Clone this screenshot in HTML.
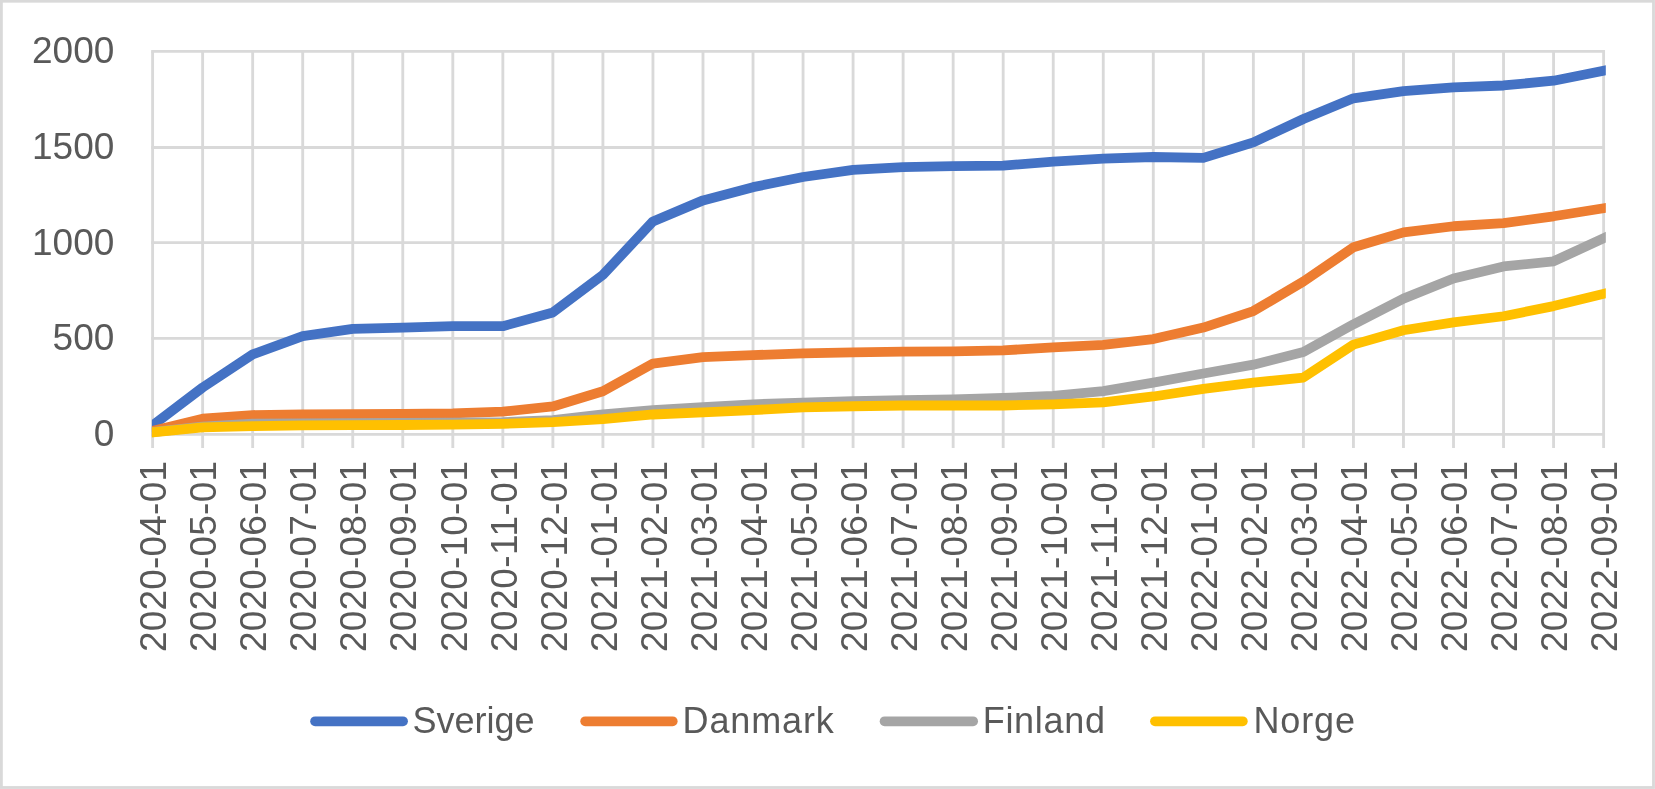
<!DOCTYPE html>
<html><head><meta charset="utf-8"><title>Chart</title>
<style>html,body{margin:0;padding:0;background:#fff;}body{width:1655px;height:789px;overflow:hidden;font-family:"Liberation Sans",sans-serif;}svg{display:block;position:absolute;left:0;top:0;will-change:transform;}text{font-family:"Liberation Sans",sans-serif;fill:#595959;}</style></head><body>
<svg width="1655" height="789" viewBox="0 0 1655 789">
<rect x="0" y="0" width="1655" height="789" fill="#fff"/>
<rect x="1.4" y="1.25" width="1652.10" height="786.25" fill="none" stroke="#D9D9D9" stroke-width="2.8"/>
<g stroke="#D9D9D9" stroke-width="2.85" fill="none">
<line x1="151.17" y1="434.35" x2="1605.04" y2="434.35"/>
<line x1="151.17" y1="338.40" x2="1605.04" y2="338.40"/>
<line x1="151.17" y1="242.55" x2="1605.04" y2="242.55"/>
<line x1="151.17" y1="147.50" x2="1605.04" y2="147.50"/>
<line x1="151.17" y1="51.40" x2="1605.04" y2="51.40"/>
<line x1="152.60" y1="51.40" x2="152.60" y2="448.00"/>
<line x1="202.63" y1="51.40" x2="202.63" y2="448.00"/>
<line x1="252.67" y1="51.40" x2="252.67" y2="448.00"/>
<line x1="302.70" y1="51.40" x2="302.70" y2="448.00"/>
<line x1="352.74" y1="51.40" x2="352.74" y2="448.00"/>
<line x1="402.77" y1="51.40" x2="402.77" y2="448.00"/>
<line x1="452.81" y1="51.40" x2="452.81" y2="448.00"/>
<line x1="502.85" y1="51.40" x2="502.85" y2="448.00"/>
<line x1="552.88" y1="51.40" x2="552.88" y2="448.00"/>
<line x1="602.91" y1="51.40" x2="602.91" y2="448.00"/>
<line x1="652.95" y1="51.40" x2="652.95" y2="448.00"/>
<line x1="702.99" y1="51.40" x2="702.99" y2="448.00"/>
<line x1="753.02" y1="51.40" x2="753.02" y2="448.00"/>
<line x1="803.05" y1="51.40" x2="803.05" y2="448.00"/>
<line x1="853.09" y1="51.40" x2="853.09" y2="448.00"/>
<line x1="903.12" y1="51.40" x2="903.12" y2="448.00"/>
<line x1="953.16" y1="51.40" x2="953.16" y2="448.00"/>
<line x1="1003.19" y1="51.40" x2="1003.19" y2="448.00"/>
<line x1="1053.23" y1="51.40" x2="1053.23" y2="448.00"/>
<line x1="1103.26" y1="51.40" x2="1103.26" y2="448.00"/>
<line x1="1153.30" y1="51.40" x2="1153.30" y2="448.00"/>
<line x1="1203.33" y1="51.40" x2="1203.33" y2="448.00"/>
<line x1="1253.37" y1="51.40" x2="1253.37" y2="448.00"/>
<line x1="1303.40" y1="51.40" x2="1303.40" y2="448.00"/>
<line x1="1353.44" y1="51.40" x2="1353.44" y2="448.00"/>
<line x1="1403.47" y1="51.40" x2="1403.47" y2="448.00"/>
<line x1="1453.51" y1="51.40" x2="1453.51" y2="448.00"/>
<line x1="1503.54" y1="51.40" x2="1503.54" y2="448.00"/>
<line x1="1553.58" y1="51.40" x2="1553.58" y2="448.00"/>
<line x1="1603.61" y1="51.40" x2="1603.61" y2="448.00"/>
</g>
<defs><clipPath id="c"><rect x="151.9" y="0" width="1453.90" height="789"/></clipPath></defs>
<polyline points="142.60,433.09 202.63,387.48 252.67,354.35 302.70,336.16 352.74,328.88 402.77,327.54 452.81,326.20 502.85,326.20 552.88,312.41 602.91,274.88 652.95,221.45 702.99,200.39 753.02,187.17 803.05,177.02 853.09,169.94 903.12,167.07 953.16,166.11 1003.19,165.53 1053.23,161.70 1103.26,158.64 1153.30,157.01 1203.33,157.87 1253.37,142.36 1303.40,119.00 1353.44,98.32 1403.47,91.04 1453.51,87.40 1503.54,85.49 1553.58,80.70 1613.61,68.75" fill="none" stroke="#4472C4" stroke-width="9.8" stroke-linejoin="round" stroke-linecap="butt" clip-path="url(#c)"/>
<polyline points="142.60,433.40 202.63,418.70 252.67,415.06 302.70,414.48 352.74,414.10 402.77,413.91 452.81,413.33 502.85,411.61 552.88,406.44 602.91,391.31 652.95,363.54 702.99,357.03 753.02,355.12 803.05,353.40 853.09,352.44 903.12,351.67 953.16,351.29 1003.19,350.33 1053.23,347.46 1103.26,344.78 1153.30,339.03 1203.33,327.54 1253.37,311.07 1303.40,281.58 1353.44,247.30 1403.47,232.37 1453.51,226.24 1503.54,223.18 1553.58,216.28 1613.61,206.63" fill="none" stroke="#ED7D31" stroke-width="9.8" stroke-linejoin="round" stroke-linecap="butt" clip-path="url(#c)"/>
<polyline points="142.60,433.17 202.63,426.74 252.67,423.68 302.70,423.29 352.74,423.10 402.77,422.91 452.81,422.72 502.85,422.14 552.88,420.04 602.91,414.29 652.95,410.08 702.99,407.21 753.02,404.33 803.05,402.61 853.09,401.08 903.12,400.12 953.16,399.36 1003.19,398.01 1053.23,395.91 1103.26,391.12 1153.30,382.69 1203.33,373.50 1253.37,364.69 1303.40,352.05 1353.44,324.29 1403.47,298.63 1453.51,278.52 1503.54,266.45 1553.58,261.28 1613.61,233.71" fill="none" stroke="#A5A5A5" stroke-width="9.8" stroke-linejoin="round" stroke-linecap="butt" clip-path="url(#c)"/>
<polyline points="142.60,433.29 202.63,427.31 252.67,426.17 302.70,425.40 352.74,425.21 402.77,425.02 452.81,424.63 502.85,423.87 552.88,422.14 602.91,419.08 652.95,414.48 702.99,412.38 753.02,410.08 803.05,407.40 853.09,406.25 903.12,405.48 953.16,405.48 1003.19,405.48 1053.23,404.33 1103.26,402.42 1153.30,396.48 1203.33,388.82 1253.37,382.69 1303.40,377.52 1353.44,344.59 1403.47,330.22 1453.51,322.37 1503.54,316.24 1553.58,306.09 1613.61,291.39" fill="none" stroke="#FFC000" stroke-width="9.8" stroke-linejoin="round" stroke-linecap="butt" clip-path="url(#c)"/>
<text x="114.3" y="446.20" font-size="37" text-anchor="end">0</text>
<text x="114.3" y="350.45" font-size="37" text-anchor="end">500</text>
<text x="114.3" y="254.70" font-size="37" text-anchor="end">1000</text>
<text x="114.3" y="158.95" font-size="37" text-anchor="end">1500</text>
<text x="114.3" y="63.20" font-size="37" text-anchor="end">2000</text>
<text transform="translate(166.30,652) rotate(-90)" font-size="37" textLength="191" lengthAdjust="spacing">2020-04-01</text>
<text transform="translate(216.33,652) rotate(-90)" font-size="37" textLength="191" lengthAdjust="spacing">2020-05-01</text>
<text transform="translate(266.37,652) rotate(-90)" font-size="37" textLength="191" lengthAdjust="spacing">2020-06-01</text>
<text transform="translate(316.40,652) rotate(-90)" font-size="37" textLength="191" lengthAdjust="spacing">2020-07-01</text>
<text transform="translate(366.44,652) rotate(-90)" font-size="37" textLength="191" lengthAdjust="spacing">2020-08-01</text>
<text transform="translate(416.47,652) rotate(-90)" font-size="37" textLength="191" lengthAdjust="spacing">2020-09-01</text>
<text transform="translate(466.51,652) rotate(-90)" font-size="37" textLength="191" lengthAdjust="spacing">2020-10-01</text>
<text transform="translate(516.55,652) rotate(-90)" font-size="37" textLength="191" lengthAdjust="spacing">2020-11-01</text>
<text transform="translate(566.58,652) rotate(-90)" font-size="37" textLength="191" lengthAdjust="spacing">2020-12-01</text>
<text transform="translate(616.62,652) rotate(-90)" font-size="37" textLength="191" lengthAdjust="spacing">2021-01-01</text>
<text transform="translate(666.65,652) rotate(-90)" font-size="37" textLength="191" lengthAdjust="spacing">2021-02-01</text>
<text transform="translate(716.69,652) rotate(-90)" font-size="37" textLength="191" lengthAdjust="spacing">2021-03-01</text>
<text transform="translate(766.72,652) rotate(-90)" font-size="37" textLength="191" lengthAdjust="spacing">2021-04-01</text>
<text transform="translate(816.75,652) rotate(-90)" font-size="37" textLength="191" lengthAdjust="spacing">2021-05-01</text>
<text transform="translate(866.79,652) rotate(-90)" font-size="37" textLength="191" lengthAdjust="spacing">2021-06-01</text>
<text transform="translate(916.83,652) rotate(-90)" font-size="37" textLength="191" lengthAdjust="spacing">2021-07-01</text>
<text transform="translate(966.86,652) rotate(-90)" font-size="37" textLength="191" lengthAdjust="spacing">2021-08-01</text>
<text transform="translate(1016.89,652) rotate(-90)" font-size="37" textLength="191" lengthAdjust="spacing">2021-09-01</text>
<text transform="translate(1066.93,652) rotate(-90)" font-size="37" textLength="191" lengthAdjust="spacing">2021-10-01</text>
<text transform="translate(1116.96,652) rotate(-90)" font-size="37" textLength="191" lengthAdjust="spacing">2021-11-01</text>
<text transform="translate(1167.00,652) rotate(-90)" font-size="37" textLength="191" lengthAdjust="spacing">2021-12-01</text>
<text transform="translate(1217.03,652) rotate(-90)" font-size="37" textLength="191" lengthAdjust="spacing">2022-01-01</text>
<text transform="translate(1267.07,652) rotate(-90)" font-size="37" textLength="191" lengthAdjust="spacing">2022-02-01</text>
<text transform="translate(1317.10,652) rotate(-90)" font-size="37" textLength="191" lengthAdjust="spacing">2022-03-01</text>
<text transform="translate(1367.14,652) rotate(-90)" font-size="37" textLength="191" lengthAdjust="spacing">2022-04-01</text>
<text transform="translate(1417.17,652) rotate(-90)" font-size="37" textLength="191" lengthAdjust="spacing">2022-05-01</text>
<text transform="translate(1467.21,652) rotate(-90)" font-size="37" textLength="191" lengthAdjust="spacing">2022-06-01</text>
<text transform="translate(1517.24,652) rotate(-90)" font-size="37" textLength="191" lengthAdjust="spacing">2022-07-01</text>
<text transform="translate(1567.28,652) rotate(-90)" font-size="37" textLength="191" lengthAdjust="spacing">2022-08-01</text>
<text transform="translate(1617.31,652) rotate(-90)" font-size="37" textLength="191" lengthAdjust="spacing">2022-09-01</text>
<line x1="315.10" y1="721.3" x2="403.00" y2="721.3" stroke="#4472C4" stroke-width="9.8" stroke-linecap="round"/>
<text x="412.50" y="732.5" font-size="36" letter-spacing="0.00">Sverige</text>
<line x1="585.20" y1="721.3" x2="672.70" y2="721.3" stroke="#ED7D31" stroke-width="9.8" stroke-linecap="round"/>
<text x="682.60" y="732.5" font-size="36" letter-spacing="0.85">Danmark</text>
<line x1="884.60" y1="721.3" x2="973.10" y2="721.3" stroke="#A5A5A5" stroke-width="9.8" stroke-linecap="round"/>
<text x="982.70" y="732.5" font-size="36" letter-spacing="0.70">Finland</text>
<line x1="1155.00" y1="721.3" x2="1242.80" y2="721.3" stroke="#FFC000" stroke-width="9.8" stroke-linecap="round"/>
<text x="1253.40" y="732.5" font-size="36" letter-spacing="0.90">Norge</text>
</svg></body></html>
